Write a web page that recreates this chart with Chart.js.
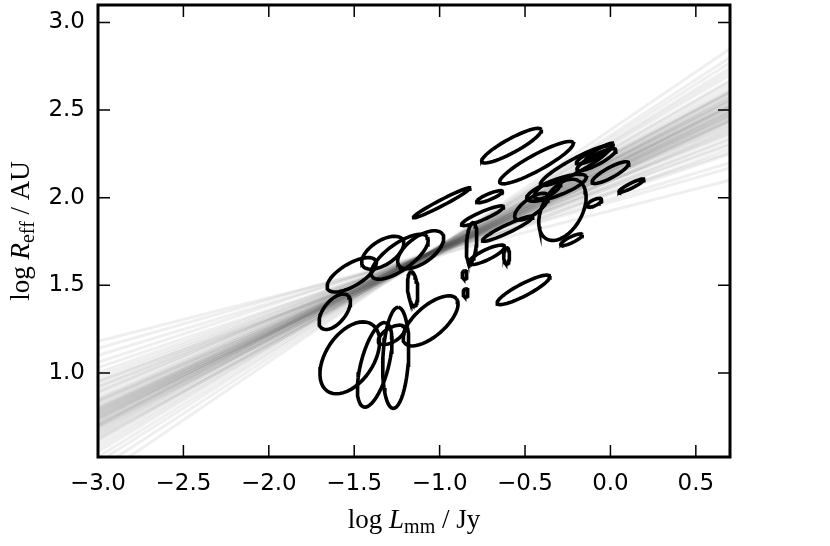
<!DOCTYPE html>
<html>
<head>
<meta charset="utf-8">
<script src="https://cdn.jsdelivr.net/npm/chart.js@4/dist/chart.umd.min.js"></script>
<style>
  html, body { margin: 0; padding: 0; background: #fff; }
  #wrap { width: 830px; height: 546px; }
</style>
</head>
<body>
<div id="wrap"><canvas id="sizeLum" width="830" height="546"></canvas></div>
<script>
// ------------------------------------------
// size-luminance relation: posterior fits + source contours
// ------------------------------------------

const xTicks = [-3.0, -2.5, -2.0, -1.5, -1.0, -0.5, 0.0, 0.5];
const xTickLabels = ["\u22123.0", "\u22122.5", "\u22122.0", "\u22121.5", "\u22121.0", "\u22120.5", "0.0", "0.5"];
const yTicks = [1.0, 1.5, 2.0, 2.5, 3.0];
const yTickLabels = ["1.0", "1.5", "2.0", "2.5", "3.0"];

// posterior draws of the fit: log R at log L = -3.0 and at log L = 0.7
const fitX = [-3.0, 0.7];
const fitLeftY = [1.18, 1.14, 1.10, 1.06, 1.03, 1.00, 0.98, 0.96, 0.94, 0.92,
                  0.90, 0.89, 0.88, 0.86, 0.85, 0.84, 0.83, 0.82, 0.81, 0.80,
                  0.79, 0.79, 0.78, 0.77, 0.77, 0.76, 0.75, 0.75, 0.74, 0.73,
                  0.73, 0.72, 0.71, 0.70, 0.69, 0.68, 0.67, 0.66, 0.65, 0.64,
                  0.62, 0.61, 0.59, 0.57, 0.55, 0.52, 0.49, 0.45, 0.40, 0.84,
                  0.80, 0.76, 0.71, 0.69, 0.92, 0.95, 0.63, 0.74, 0.78, 0.70];
const fitRightY = [2.10, 2.17, 2.20, 2.26, 2.25, 2.30, 2.31, 2.33, 2.36, 2.37,
                   2.38, 2.41, 2.40, 2.42, 2.44, 2.43, 2.46, 2.45, 2.47, 2.48,
                   2.49, 2.46, 2.50, 2.51, 2.48, 2.52, 2.52, 2.50, 2.54, 2.53,
                   2.55, 2.56, 2.55, 2.57, 2.58, 2.56, 2.60, 2.61, 2.62, 2.60,
                   2.64, 2.66, 2.67, 2.70, 2.72, 2.74, 2.77, 2.80, 2.85, 2.39,
                   2.44, 2.47, 2.52, 2.53, 2.34, 2.28, 2.58, 2.49, 2.44, 2.60];

// source contours: centre, semi-axes (dex) and tilt (deg)
const ellCx = [-1.515, -1.333, -1.234, -1.111, -1.158, -1.614, -1.526, -1.380, -1.257, -1.053,
               -1.281, -0.854, -0.848, -0.579, -0.433, -0.988, -0.708, -0.749, -0.813, -0.725,
               -0.608, -0.602, -0.509, -0.281, -0.462, -0.316, -0.205, -0.094, -0.082, 0.000,
               0.123, -0.228, -0.094, -0.368, -0.064];
const ellCy = [1.560, 1.686, 1.663, 1.703, 1.480, 1.349, 1.086, 1.046, 1.086, 1.297,
               1.217, 1.560, 1.457, 2.297, 2.200, 1.971, 2.006, 1.897, 1.743, 1.674,
               1.669, 1.823, 1.474, 1.931, 1.949, 2.057, 2.183, 2.246, 2.217, 2.143,
               2.069, 1.760, 1.971, 2.046, 2.263];
const ellA = [0.162, 0.139, 0.197, 0.156, 0.098, 0.121, 0.231, 0.249, 0.289, 0.197,
              0.087, 0.023, 0.023, 0.197, 0.243, 0.185, 0.081, 0.133, 0.116, 0.116,
              0.046, 0.162, 0.173, 0.191, 0.116, 0.185, 0.231, 0.116, 0.127, 0.121,
              0.081, 0.069, 0.046, 0.087, 0.092];
const ellB = [0.064, 0.069, 0.075, 0.075, 0.029, 0.064, 0.139, 0.081, 0.075, 0.087,
              0.040, 0.014, 0.014, 0.040, 0.046, 0.017, 0.017, 0.023, 0.029, 0.029,
              0.017, 0.023, 0.035, 0.116, 0.046, 0.046, 0.040, 0.023, 0.029, 0.029,
              0.014, 0.017, 0.017, 0.035, 0.017];
const ellAngle = [30, 32, 35, 35, 95, 50, 55, 75, 87, 40,
                  30, 90, 90, 28, 28, 27, 22, 23, 85, 25,
                  90, 25, 27, 60, 35, 20, 28, 25, 27, 28,
                  26, 25, 25, 30, 30];

function ellipseOutline(i) {
  const th = ellAngle[i] * Math.PI / 180;
  const pts = [];
  for (let k = 0; k <= 48; k++) {
    const t = (k / 48) * 2 * Math.PI;
    const u = ellA[i] * Math.cos(t);
    const v = ellB[i] * Math.sin(t);
    pts.push({
      x: ellCx[i] + u * Math.cos(th) - v * Math.sin(th),
      y: ellCy[i] + u * Math.sin(th) + v * Math.cos(th),
    });
  }
  return pts;
}

const datasets = [];

fitLeftY.forEach((yl, i) => {
  datasets.push({
    data: [{ x: fitX[0], y: yl }, { x: fitX[1], y: fitRightY[i] }],
    showLine: true,
    borderColor: "rgba(70, 70, 70, 0.085)",
    borderWidth: 3,
    pointRadius: 0,
    order: 2,
  });
});

ellCx.forEach((_, i) => {
  datasets.push({
    data: ellipseOutline(i),
    showLine: true,
    borderColor: "#000",
    borderWidth: 3.6,
    pointRadius: 0,
    tension: 0,
    order: 1,
  });
});

// frame with inward ticks on all four sides, matplotlib style
const framePlugin = {
  id: "frame",
  afterDraw(chart) {
    const { ctx, chartArea, scales } = chart;
    const { left, right, top, bottom } = chartArea;
    ctx.save();
    ctx.strokeStyle = "#000";
    ctx.lineWidth = 1.5;
    ctx.beginPath();
    xTicks.forEach((v) => {
      const px = scales.x.getPixelForValue(v);
      ctx.moveTo(px, bottom);
      ctx.lineTo(px, bottom - 12);
      ctx.moveTo(px, top);
      ctx.lineTo(px, top + 12);
    });
    yTicks.forEach((v) => {
      const py = scales.y.getPixelForValue(v);
      ctx.moveTo(left, py);
      ctx.lineTo(left + 12, py);
      ctx.moveTo(right, py);
      ctx.lineTo(right - 12, py);
    });
    ctx.stroke();
    ctx.lineWidth = 3;
    ctx.strokeRect(left, top, right - left, bottom - top);
    ctx.restore();
  },
};

// axis titles with italic symbol and subscript
function drawMathLabel(ctx, parts, cx, cy) {
  let total = 0;
  parts.forEach((p) => {
    ctx.font = p.font;
    p.w = ctx.measureText(p.text).width;
    total += p.w;
  });
  let x = cx - total / 2;
  parts.forEach((p) => {
    ctx.font = p.font;
    ctx.fillText(p.text, x, cy + (p.dy || 0));
    x += p.w;
  });
}

const titlePlugin = {
  id: "axisTitles",
  afterDraw(chart) {
    const { ctx, chartArea } = chart;
    const serif = "'Liberation Serif', 'DejaVu Serif', serif";
    ctx.save();
    ctx.fillStyle = "#000";
    ctx.textBaseline = "alphabetic";
    ctx.textAlign = "left";
    const midX = (chartArea.left + chartArea.right) / 2;
    drawMathLabel(ctx, [
      { text: "log ", font: "27px " + serif },
      { text: "L", font: "italic 27px " + serif },
      { text: "mm", font: "20px " + serif, dy: 5 },
      { text: " / Jy", font: "27px " + serif },
    ], midX, 528);

    const midY = (chartArea.top + chartArea.bottom) / 2;
    ctx.translate(29, midY);
    ctx.rotate(-Math.PI / 2);
    drawMathLabel(ctx, [
      { text: "log ", font: "27px " + serif },
      { text: "R", font: "italic 27px " + serif },
      { text: "eff", font: "20px " + serif, dy: 5 },
      { text: " / AU", font: "27px " + serif },
    ], 0, 0);
    ctx.restore();
  },
};

const tickFont = { family: "'DejaVu Sans', sans-serif", size: 23 };

new Chart(document.getElementById("sizeLum"), {
  type: "scatter",
  data: { datasets },
  options: {
    responsive: false,
    animation: false,
    devicePixelRatio: 1,
    layout: { padding: { top: 5, right: 100, left: 0, bottom: 0 } },
    plugins: {
      legend: { display: false },
      tooltip: { enabled: false },
    },
    scales: {
      x: {
        type: "linear",
        min: -3.0,
        max: 0.7,
        grid: { display: false, drawTicks: false },
        border: { display: false },
        afterBuildTicks: (scale) => {
          scale.ticks = xTicks.map((v) => ({ value: v }));
        },
        afterFit: (scale) => {
          scale.height = 89;
          scale.paddingLeft = 0;
          scale.paddingRight = 0;
        },
        ticks: {
          padding: 13,
          color: "#000",
          font: tickFont,
          maxRotation: 0,
          callback: (value) => xTickLabels[xTicks.indexOf(value)],
        },
      },
      y: {
        type: "linear",
        min: 0.52,
        max: 3.1,
        grid: { display: false, drawTicks: false },
        border: { display: false },
        afterBuildTicks: (scale) => {
          scale.ticks = yTicks.map((v) => ({ value: v }));
        },
        afterFit: (scale) => {
          scale.width = 98;
          scale.paddingTop = 0;
          scale.paddingBottom = 0;
        },
        ticks: {
          padding: 13,
          color: "#000",
          font: tickFont,
          callback: (value) => yTickLabels[yTicks.indexOf(value)],
        },
      },
    },
  },
  plugins: [framePlugin, titlePlugin],
});
</script>
</body>
</html>
